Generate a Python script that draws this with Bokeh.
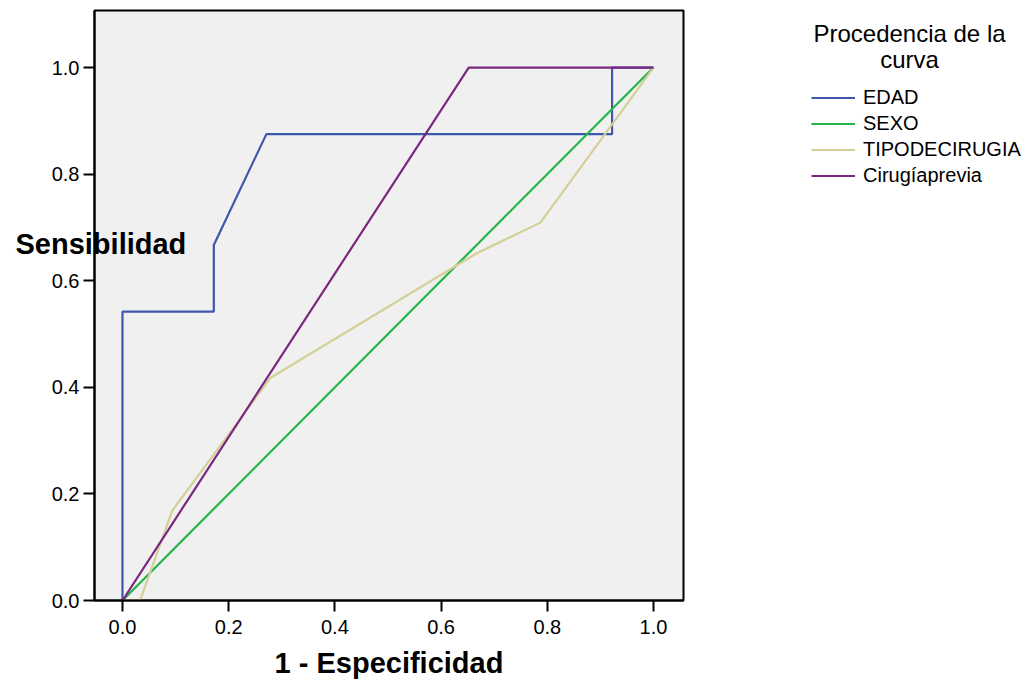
from bokeh.plotting import figure
from bokeh.models import Range1d, Legend, LegendItem, FixedTicker
from bokeh.core.properties import value
from bokeh.embed import file_html
from bokeh.resources import INLINE

# ROC curves (1 - specificity, sensitivity)
edad_x = [0.0, 0.0, 0.172, 0.172, 0.271, 0.922, 0.922, 1.0]
edad_y = [0.0, 0.542, 0.542, 0.667, 0.875, 0.875, 1.0, 1.0]
sexo_x = [0.0, 1.0]
sexo_y = [0.0, 1.0]
tipo_x = [0.0, 0.033, 0.094, 0.279, 0.668, 0.787, 1.0]
tipo_y = [0.0, 0.0, 0.169, 0.418, 0.652, 0.709, 1.0]
cir_x = [0.0, 0.652, 1.0]
cir_y = [0.0, 1.0, 1.0]

series_names = ["EDAD", "SEXO", "TIPODECIRUGIA", "Cirugíaprevia"]
series_colors = ["#3e58ac", "#25b44a", "#d4cf96", "#7a2782"]
ticks = [0.0, 0.2, 0.4, 0.6, 0.8, 1.0]
tick_labels = {0.0: "0.0", 0.2: "0.2", 0.4: "0.4", 0.6: "0.6", 0.8: "0.8", 1.0: "1.0"}
legend_title_lines = ["Procedencia de la", "curva"]
y_title = "Sensibilidad"
x_title = "1 - Especificidad"

FONT = "Liberation Sans"

p = figure(
    frame_width=589, frame_height=590,
    x_range=Range1d(-0.0527, 1.0565), y_range=Range1d(0.0, 1.107),
    output_backend="svg", toolbar_location=None,
    min_border_left=94, min_border_top=10, min_border_right=330, min_border_bottom=80,
)
p.background_fill_color = "#f0f0f0"
p.border_fill_color = "white"
p.outline_line_color = "black"
p.outline_line_width = 2
p.xgrid.visible = False
p.ygrid.visible = False

for ax in (p.xaxis[0], p.yaxis[0]):
    ax.ticker = FixedTicker(ticks=ticks)
    ax.major_label_overrides = tick_labels
    ax.minor_tick_line_color = None
    ax.major_tick_in = 0
    ax.major_tick_out = 11
    ax.major_tick_line_width = 2
    ax.major_tick_line_color = "black"
    ax.axis_line_color = "black"
    ax.axis_line_width = 2
    ax.major_label_text_font = FONT
    ax.major_label_text_font_size = "20px"
    ax.major_label_text_color = "black"

p.xaxis.major_label_standoff = 8
p.yaxis.major_label_standoff = 4
p.xaxis.axis_label = x_title
p.xaxis.axis_label_text_font = FONT
p.xaxis.axis_label_text_font_size = "29px"
p.xaxis.axis_label_text_font_style = "bold"
p.xaxis.axis_label_text_color = "black"
p.xaxis.axis_label_standoff = 10

xs = [edad_x, sexo_x, tipo_x, cir_x]
ys = [edad_y, sexo_y, tipo_y, cir_y]
renderers = []
for x, y, c in zip(xs, ys, series_colors):
    r = p.line(x, y, line_color=c, line_width=2.2)
    renderers.append(r)

legend = Legend(
    items=[LegendItem(label=n, renderers=[r]) for n, r in zip(series_names, renderers)],
    location=(128, 413),
    padding=0, margin=0, spacing=3,
    label_height=21, glyph_height=21, glyph_width=44, label_standoff=8,
    label_text_font=FONT, label_text_font_size="20px", label_text_color="black",
    border_line_color=None, background_fill_alpha=0,
)
p.add_layout(legend, "right")

# texts that lie across panels: text glyphs on the overlay level
p.text(x=[1.4821, 1.4821], y=[1.0638, 1.015], text=legend_title_lines,
       text_align="center", text_baseline="middle", text_font=value(FONT),
       text_font_size="24px", text_color="black", level="overlay")
p.text(x=[-0.2015], y=[0.6698], text=[y_title],
       text_align="left", text_baseline="middle", text_font=value(FONT),
       text_font_size="29px", text_font_style="bold", text_color="black", level="overlay")

open("out.html", "w").write(file_html(p, INLINE))
